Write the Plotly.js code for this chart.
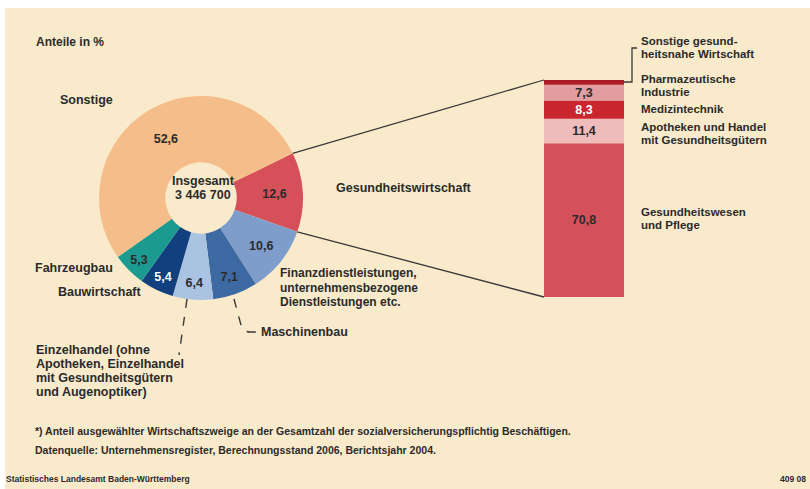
<!DOCTYPE html>
<html>
<head>
<meta charset="utf-8">
<script src="https://cdn.plot.ly/plotly-3.0.1.min.js"></script>
<style>html,body{margin:0;padding:0;background:#fff;}#chart{width:810px;height:489px;}</style>
</head>
<body>
<div id="chart"></div>
<script>
// ---- data ----
const pieLabels = ["Gesundheitswirtschaft", "Finanzdienstleistungen, unternehmensbezogene Dienstleistungen etc.", "Maschinenbau", "Einzelhandel", "Bauwirtschaft", "Fahrzeugbau", "Sonstige"];
const pieValues = [12.6, 10.6, 7.1, 6.4, 5.4, 5.3, 52.6];
const pieColors = ["#d6505a", "#7f9dcb", "#3e6aa3", "#abc3e3", "#123f7d", "#1b9b8f", "#f5bd89"];
const pieTextColors = ["#2b2b2b", "#2b2b2b", "#2b2b2b", "#2b2b2b", "#ffffff", "#2b2b2b", "#2b2b2b"];
const total = 3446700;

const barLabels = ["Gesundheitswesen und Pflege", "Apotheken und Handel mit Gesundheitsgütern", "Medizintechnik", "Pharmazeutische Industrie", "Sonstige gesundheitsnahe Wirtschaft"];
const barValues = [70.8, 11.4, 8.3, 7.3, 2.2];
const barColors = ["#d4505b", "#efbcbc", "#c9262f", "#e39c9f", "#ad1c24"];
const barTextColors = ["#2b2b2b", "#2b2b2b", "#ffffff", "#2b2b2b", "#2b2b2b"];
const barShowText = [true, true, true, true, false];

// ---- geometry helpers (pixels -> paper) ----
const W = 810, H = 489;
const px = x => x / W;
const py = y => 1 - y / H;

const pieCx = 201, pieCy = 198, pieR = 102, pieRot = 64;
const barX0 = 544, barX1 = 624, barTop = 80, barBottom = 297;

const barBases = [];
barValues.reduce((acc, v, i) => { barBases[i] = acc; return acc + v; }, 0);

const font = "Liberation Sans, Arial, sans-serif";
const txt = "#2b2b2b";

const pie = {
  type: "pie",
  labels: pieLabels,
  values: pieValues,
  sort: false,
  direction: "clockwise",
  rotation: pieRot,
  hole: 0.35,
  marker: {colors: pieColors, line: {width: 0}},
  texttemplate: "<b>%{value:.1f}</b>",
  textposition: "inside",
  insidetextorientation: "horizontal",
  textfont: {family: font, size: 12.5, color: pieTextColors},
  domain: {x: [px(pieCx - pieR), px(pieCx + pieR)], y: [py(pieCy + pieR), py(pieCy - pieR)]},
  showlegend: false,
  hoverinfo: "skip"
};

const bar = {
  type: "bar",
  x: barValues.map(() => 0),
  y: barValues,
  base: barBases,
  width: 1,
  marker: {color: barColors, line: {width: 0}},
  texttemplate: barShowText.map(s => s ? "<b>%{y:.1f}</b>" : ""),
  textposition: "inside",
  insidetextanchor: "middle",
  textangle: 0,
  constraintext: "none",
  textfont: {family: font, size: 12.5, color: barTextColors},
  xaxis: "x", yaxis: "y",
  showlegend: false,
  hoverinfo: "skip"
};

// connector endpoints on the first pie slice edges
const deg = Math.PI / 180;
const a0 = pieRot * deg, a1 = (pieRot + pieValues[0] * 3.6) * deg;
const p0 = [pieCx + pieR * Math.sin(a0), pieCy - pieR * Math.cos(a0)];
const p1 = [pieCx + pieR * Math.sin(a1), pieCy - pieR * Math.cos(a1)];

const lineStyle = {color: "#3a3a3a", width: 1.3};
const shapes = [
  {type: "rect", xref: "paper", yref: "paper", x0: px(5), x1: 1, y0: 0, y1: py(8), fillcolor: "#f8eacb", line: {width: 0}, layer: "below"},
  {type: "line", xref: "paper", yref: "paper", x0: px(p0[0]), y0: py(p0[1]), x1: px(barX0), y1: py(barTop), line: lineStyle},
  {type: "line", xref: "paper", yref: "paper", x0: px(p1[0]), y0: py(p1[1]), x1: px(barX0), y1: py(barBottom), line: lineStyle},
  {type: "path", xref: "paper", yref: "paper",
   path: `M ${px(barX1)} ${py(82)} L ${px(632)} ${py(82)} L ${px(632)} ${py(48)} L ${px(637)} ${py(48)}`, line: lineStyle},
  {type: "line", xref: "paper", yref: "paper", x0: px(187), y0: py(299), x1: px(179), y1: py(355), line: {color: "#3a3a3a", width: 1.4, dash: "dash"}},
  {type: "path", xref: "paper", yref: "paper",
   path: `M ${px(234)} ${py(299)} L ${px(241)} ${py(325)} Q ${px(243)} ${py(332)} ${px(250)} ${py(332)} L ${px(259)} ${py(332)}`,
   line: {color: "#3a3a3a", width: 1.4, dash: "dash"}}
];

function ann(text, x, y, size, opts) {
  return Object.assign({
    text: "<b>" + text + "</b>", xref: "paper", yref: "paper", x: px(x), y: py(y),
    xanchor: "left", yanchor: "middle", showarrow: false, align: "left", borderpad: 0,
    font: {family: font, size: size || 12.5, color: txt}
  }, opts || {});
}
function multi(lines, x, y0, step, size) {
  return lines.map((l, i) => ann(l, x, y0 + i * step, size));
}
const totalStr = String(total).replace(/\B(?=(\d{3})+(?!\d))/g, " ");
const annotations = [
  ann("Anteile in %", 35, 42, 12),
  ann("Sonstige", 59, 100),
  ann("Gesundheitswirtschaft", 335, 188),
  ...multi(["Finanzdienstleistungen,", "unternehmensbezogene", "Dienstleistungen etc."], 279, 273, 14.5, 12),
  ann("Fahrzeugbau", 34, 268),
  ann("Bauwirtschaft", 57, 292),
  ...multi(["Einzelhandel (ohne", "Apotheken, Einzelhandel", "mit Gesundheitsgütern", "und Augenoptiker)"], 35, 350, 14, 12.5),
  ann("Maschinenbau", 260, 332),
  ann("Insgesamt", pieCx + 2, 181, 12.5, {xanchor: "center"}),
  ann(totalStr, pieCx + 2, 195, 12.5, {xanchor: "center"}),
  ...multi(["Sonstige gesund-", "heitsnahe Wirtschaft"], 640, 41, 13, 11.5),
  ...multi(["Pharmazeutische", "Industrie"], 640, 79, 13, 11.5),
  ann("Medizintechnik", 640, 109, 11.5),
  ...multi(["Apotheken und Handel", "mit Gesundheitsgütern"], 640, 127, 13, 11.5),
  ...multi(["Gesundheitswesen", "und Pflege"], 640, 212, 13, 11.5),
  ann("*) Anteil ausgewählter Wirtschaftszweige an der Gesamtzahl der sozialversicherungspflichtig Beschäftigen.", 34, 431, 10.5),
  ann("Datenquelle: Unternehmensregister, Berechnungsstand 2006, Berichtsjahr 2004.", 34, 450, 10.5),
  ann("Statistisches Landesamt Baden-Württemberg", 5, 479, 8.5),
  ann("409 08", 779, 479, 8.5)
];

const layout = {
  width: W, height: H,
  margin: {l: 0, r: 0, t: 0, b: 0, pad: 0},
  paper_bgcolor: "#ffffff",
  plot_bgcolor: "rgba(0,0,0,0)",
  separators: ", ",
  barmode: "overlay",
  xaxis: {domain: [px(barX0), px(barX1)], range: [-0.5, 0.5], visible: false, fixedrange: true},
  yaxis: {domain: [py(barBottom), py(barTop)], range: [0, 100], visible: false, fixedrange: true},
  shapes: shapes,
  annotations: annotations,
  showlegend: false
};

Plotly.newPlot("chart", [pie, bar], layout, {displayModeBar: false, staticPlot: true});
</script>
</body>
</html>
